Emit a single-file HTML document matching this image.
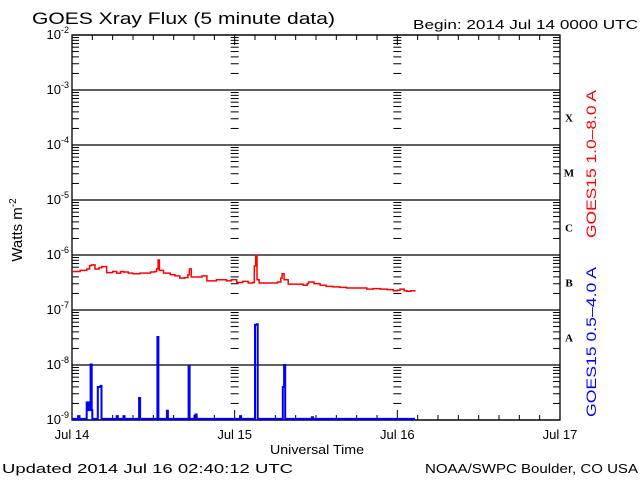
<!DOCTYPE html>
<html><head><meta charset="utf-8"><style>
body{margin:0;background:#fff;}
svg{display:block;font-family:"Liberation Sans",sans-serif;}
</style></head><body>
<svg id="chart" width="640" height="480" viewBox="0 0 640 480">
<rect width="640" height="480" fill="#fff"/>
<text x="32" y="24" font-size="17" fill="#000" textLength="303" lengthAdjust="spacingAndGlyphs">GOES Xray Flux (5 minute data)</text>
<text x="413" y="29" font-size="13" fill="#000" textLength="225" lengthAdjust="spacingAndGlyphs">Begin:  2014 Jul 14 0000 UTC</text>
<g id="axes"></g>
<g id="series"></g>
<text transform="translate(22,230) rotate(-90)" font-size="15" text-anchor="middle">Watts m<tspan font-size="10" dy="-6">-2</tspan></text>
<text x="270" y="454" font-size="13" textLength="94" lengthAdjust="spacingAndGlyphs">Universal Time</text>
<text transform="translate(596,238) rotate(-90)" font-size="14" fill="#ff0000" textLength="148" lengthAdjust="spacingAndGlyphs">GOES15 1.0–8.0 A</text>
<text transform="translate(596,417) rotate(-90)" font-size="14" fill="#0000ff" textLength="150" lengthAdjust="spacingAndGlyphs">GOES15 0.5–4.0 A</text>
<text x="2" y="473" font-size="13" textLength="291" lengthAdjust="spacingAndGlyphs">Updated 2014 Jul 16 02:40:12 UTC</text>
<text x="425" y="473" font-size="13" textLength="213" lengthAdjust="spacingAndGlyphs">NOAA/SWPC Boulder, CO USA</text>
</svg>
<script>
const dayLabels=["Jul 14","Jul 15","Jul 16","Jul 17"];
const decadeExps=[-2,-3,-4,-5,-6,-7,-8,-9];
const classLabels=["X","M","C","B","A"];
const longHours=[0,1.2,2.2,2.6,2.9,3.4,4.0,4.4,5.1,6.0,6.6,7.2,7.6,8.3,9.0,10.0,11.0,11.6,12.2,12.5,12.7,12.9,13.5,14.5,15.2,15.9,16.6,17.1,17.3,17.6,18.6,19.2,19.9,21.3,22.8,23.5,24.3,25.2,26.0,26.7,26.9,27.1,27.3,27.6,28.5,29.7,30.3,30.8,31.0,31.3,31.9,33.0,34.1,34.7,34.9,35.7,36.6,37.5,38.5,39.5,40.5,41.5,42.5,43.5,44.4,45.5,46.5,47.4,48.0,48.4,49.0,49.4,50.0,50.6];
const longLog=[-6.30,-6.28,-6.255,-6.19,-6.18,-6.255,-6.23,-6.21,-6.32,-6.30,-6.33,-6.30,-6.31,-6.33,-6.34,-6.33,-6.33,-6.31,-6.30,-6.25,-6.09,-6.28,-6.33,-6.36,-6.38,-6.42,-6.41,-6.36,-6.255,-6.40,-6.40,-6.38,-6.47,-6.45,-6.47,-6.45,-6.50,-6.48,-6.51,-6.50,-6.20,-6.01,-6.45,-6.51,-6.51,-6.51,-6.49,-6.42,-6.34,-6.45,-6.53,-6.53,-6.55,-6.52,-6.49,-6.52,-6.55,-6.57,-6.58,-6.59,-6.60,-6.60,-6.60,-6.62,-6.61,-6.62,-6.63,-6.65,-6.64,-6.62,-6.65,-6.66,-6.65,-6.64];
const shortHours=[0,0.9,1.1,2.0,2.17,2.45,2.6,2.75,2.9,3.0,3.7,3.8,4.2,4.35,6.5,6.6,6.75,7.5,7.6,7.75,9.8,9.9,10.05,12.5,12.6,12.75,13.9,14.0,14.15,17.1,17.2,17.35,18.1,18.2,18.4,24.7,24.8,24.95,26.9,27.0,27.3,27.4,31.0,31.1,31.3,31.45,35.3,35.4,35.55,50.6];
const shortLog=[-9,-8.93,-9,-9,-8.68,-8.82,-8.82,-7.99,-8.82,-9,-9,-8.4,-8.38,-9,-9,-8.93,-9,-9,-8.93,-9,-9,-8.6,-9,-9,-7.49,-9,-9,-8.83,-9,-9,-8.03,-9,-9,-8.9,-9,-9,-8.93,-9,-9,-7.27,-7.26,-9,-9,-8.4,-8.0,-9,-9,-8.95,-9,-9];
const X0=72,X1=560,Y0=35,Y1=420;
const xs=h=>X0+h/72*(X1-X0);
const ys=l=>Y0+(-2-l)/7*(Y1-Y0);
const NS="http://www.w3.org/2000/svg";
const ax=document.getElementById('axes'),se=document.getElementById('series');
function mk(t,a,p){const e=document.createElementNS(NS,t);for(const k in a)e.setAttribute(k,a[k]);p.appendChild(e);return e;}
mk('rect',{x:X0,y:Y0,width:X1-X0,height:Y1-Y0,fill:'none',stroke:'#000','stroke-width':1.3},ax);
decadeExps.forEach((d,i)=>{
 const y=ys(d);
 const g=mk('line',{x1:X0,x2:X1,y1:y,y2:y,stroke:'#000','stroke-width':1.3},ax);
 
 
 const t=mk('text',{x:X0-3,y:y+4,'font-size':13,'text-anchor':'end'},ax);
 
 
 t.innerHTML='10<tspan font-size="9" dy="-6">'+d+'</tspan>';
 if(i<7){for(let m=2;m<10;m++){const yy=ys(d-1+Math.log10(m));
  const len=7;
  mk('line',{x1:X0,x2:X0+len,y1:yy,y2:yy,stroke:'#000'},ax);
  mk('line',{x1:X1-len,x2:X1,y1:yy,y2:yy,stroke:'#000'},ax);
  [1,2].forEach(k=>{const xd=xs(k*24);mk('line',{x1:xd-4,x2:xd+4,y1:yy,y2:yy,stroke:'#000'},ax);});
 }}
});
dayLabels.forEach((l,i)=>{
 const x=xs(i*24);
 const t=mk('text',{x:x,y:439,'font-size':13,'text-anchor':'middle'},ax);
 
 
 t.textContent=l;
 if(i>0&&i<3){mk('line',{x1:x,x2:x,y1:Y0,y2:Y0+10,stroke:'#000'},ax);mk('line',{x1:x,x2:x,y1:Y1-10,y2:Y1,stroke:'#000'},ax);}
});
for(let h=3;h<72;h+=3){if(h%24==0)continue;const x=xs(h);
 mk('line',{x1:x,x2:x,y1:Y0,y2:Y0+5,stroke:'#000'},ax);mk('line',{x1:x,x2:x,y1:Y1-5,y2:Y1,stroke:'#000'},ax);}
classLabels.forEach((c,i)=>{
 const t=mk('text',{x:569,y:ys(-3.5-i)+4,'font-size':11,'font-weight':'bold','font-family':'Liberation Serif, serif','text-anchor':'middle'},ax);
 
 
 t.textContent=c;
});
function step(hs,ls){let d='';hs.forEach((h,i)=>{const x=xs(h),y=ys(Math.max(ls[i],-8.98));d+=(i?'H'+x.toFixed(1)+'V':'M'+x.toFixed(1)+' ')+y.toFixed(1);});return d;}
const pl=mk('path',{d:step(longHours,longLog),fill:'none',stroke:'#ff0000','stroke-width':1.5},se);


const ps=mk('path',{d:step(shortHours,shortLog),fill:'none',stroke:'#0000ff','stroke-width':2},se);


</script>
</body></html>
